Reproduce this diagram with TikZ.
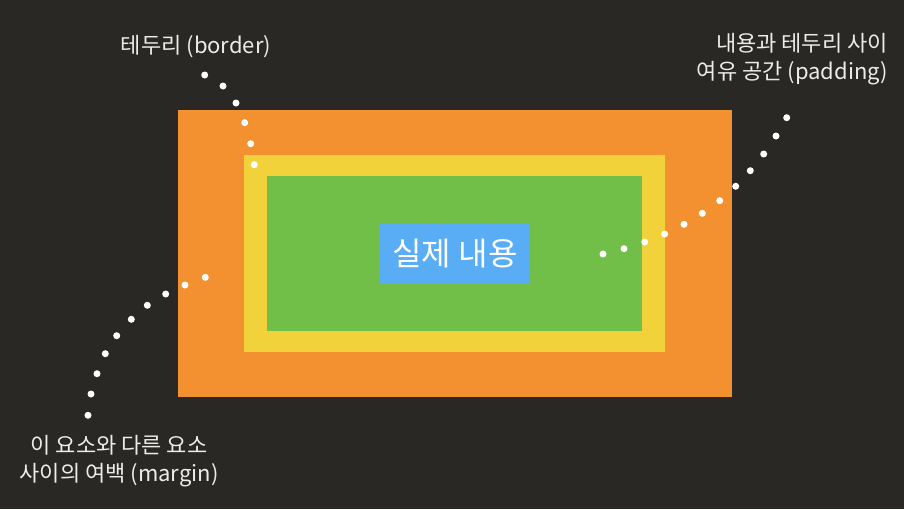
\documentclass[tikz,border=0pt]{standalone}
\usepackage{fontspec}
\setmainfont{Noto Sans CJK KR}
\definecolor{bgc}{HTML}{2A2824}
\definecolor{orc}{HTML}{F39130}
\definecolor{yec}{HTML}{F2D23A}
\definecolor{grc}{HTML}{71BF48}
\definecolor{blc}{HTML}{59ADF5}
\definecolor{txc}{HTML}{ECECEC}
\begin{document}
\begin{tikzpicture}[x=1pt,y=-1pt,
  dotc/.style={circle,fill=white,inner sep=0pt,minimum size=7pt},
  lbl/.style={text=txc,font=\fontsize{22}{28}\selectfont,inner sep=0pt}]
\fill[bgc] (0,0) rectangle (904,509);
\useasboundingbox (0,0) rectangle (904,509);
\fill[orc] (178,110) rectangle (732,397);
\fill[yec] (244,155) rectangle (665,352);
\fill[grc] (267,176) rectangle (642,331);
\node[fill=blc,minimum width=150pt,minimum height=60pt,inner sep=0pt,text=white,font=\fontsize{32}{34}\selectfont] (content) at (455,254) {실제 내용};
% border dots
\foreach \x/\y [count=\i] in {204.7/75,223/86,236/103,244.7/122.7,250.7/143.7,254.3/164.7}
  \node[dotc] (b\i) at (\x,\y) {};
% padding dots
\foreach \x/\y [count=\i] in {786.7/117.7,776/136,763.7/154,750.3/170.7,735.7/186.3,719.7/200.7,702.3/213.3,684/224.3,664.7/234,644.7/242,624/248.7,603/254}
  \node[dotc] (p\i) at (\x,\y) {};
% margin dots
\foreach \x/\y [count=\i] in {205.3/277.3,185/285,165.7/294,147.3/305.3,131.3/319.3,116.7/335.7,105.3/353.7,97/373.7,91/394,88/415.3}
  \node[dotc] (m\i) at (\x,\y) {};
\node[lbl,anchor=center] (lborder) at (196,47) {테두리 (border)};
\node[lbl,anchor=east,align=right] (lpad) at (888,59) {내용과 테두리 사이\\여유 공간 (padding)};
\node[lbl,anchor=center,align=center] (lmar) at (119,461) {이 요소와 다른 요소\\사이의 여백 (margin)};
\end{tikzpicture}
\end{document}
